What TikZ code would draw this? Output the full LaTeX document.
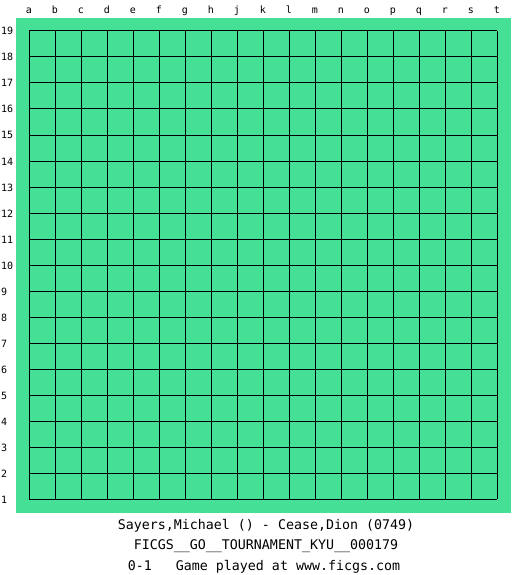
\documentclass[tikz,border=0pt]{standalone}
\usepackage{fontspec}
\newfontfamily\monof{DejaVu Sans Mono}
\definecolor{boardgreen}{RGB}{69,224,150}
\begin{document}
\begin{tikzpicture}[x=1pt,y=-1pt,
  collabel/.style={font=\monof\fontsize{10}{12}\selectfont, inner sep=0pt, anchor=base},
  rowlabel/.style={font=\monof\fontsize{10}{12}\selectfont, inner sep=0pt, anchor=base west},
  infotext/.style={font=\monof\fontsize{13.3}{16}\selectfont, inner sep=0pt, anchor=base},
  gridline/.style={draw=black, line width=1pt}]
\useasboundingbox[fill=white] (0,0) rectangle (525,575);
\fill[boardgreen] (16,18) rectangle (511,513);
\foreach \i in {0,...,18} {
  \draw[gridline] ({29+26*\i},31) -- ({29+26*\i},499);
  \draw[gridline] (29,{31+26*\i}) -- (497,{31+26*\i});
}
\foreach \l [count=\k from 0] in {a,b,c,d,e,f,g,h,j,k,l,m,n,o,p,q,r,s,t} {
  \node[collabel] (col\l) at ({29+26*\k},14) {\l};
}
\foreach \k in {0,...,18} {
  \pgfmathtruncatemacro{\r}{19-\k}
  \node[rowlabel] (row\r) at (1,{31+26*\k+4}) {\r};
}
\node[infotext] (players) at (266,529) {Sayers,Michael () - Cease,Dion (0749)};
\node[infotext] (event) at (266,549.5) {FICGS\_\_GO\_\_TOURNAMENT\_KYU\_\_000179};
\node[infotext] (result) at (264,570) {0-1\ \ \ Game played at www.ficgs.com};
\end{tikzpicture}
\end{document}
